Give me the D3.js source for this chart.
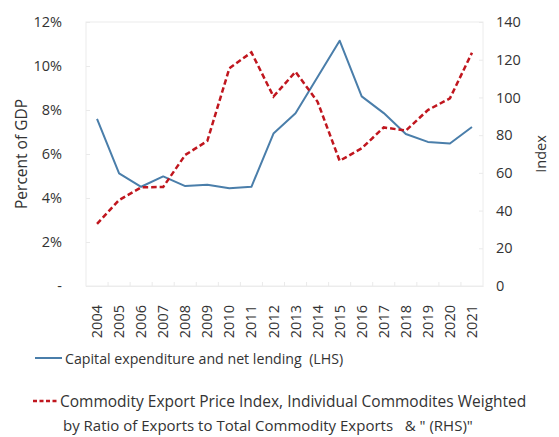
<!DOCTYPE html>
<html>
<head>
<meta charset="utf-8">
<script src="https://cdn.jsdelivr.net/npm/d3@7"></script>
<style>
  html, body { margin: 0; padding: 0; background: #fff; }
  svg { display: block; font-family: "Open Sans", "Noto Sans", sans-serif; }
  .pre { white-space: pre; }
</style>
</head>
<body>
<svg id="chart" width="559" height="437"></svg>
<script>
const years = ["2004","2005","2006","2007","2008","2009","2010","2011","2012","2013","2014","2015","2016","2017","2018","2019","2020","2021"];
const capexPct = [7.6, 5.12, 4.51, 4.98, 4.54, 4.6, 4.44, 4.51, 6.93, 7.85, 9.5, 11.15, 8.62, 7.86, 6.91, 6.55, 6.48, 7.23];
const priceIndex = [32.9, 45.6, 52.3, 52.5, 69.5, 76.9, 115.4, 123.9, 100.5, 113.6, 97.7, 66.4, 73.0, 84.1, 82.4, 93.3, 99.5, 123.7];
const leftTicks = [0, 2, 4, 6, 8, 10, 12];
const rightTicks = [0, 20, 40, 60, 80, 100, 120, 140];
const leftTitle = "Percent of GDP";
const rightTitle = "Index";
const legend1 = "Capital expenditure and net lending  (LHS)";
const legend2a = "Commodity Export Price Index, Individual Commodites Weighted";
const legend2b = "by Ratio of Exports to Total Commodity Exports   & \" (RHS)\"";

const svg = d3.select("#chart");
const L = 86, R = 483, T = 22, B = 286;
const textColor = "#333";
const blue = "#4a7eaa", red = "#c0161e";

const x = d3.scaleBand().domain(years).range([L, R]).padding(0);
const yL = d3.scaleLinear().domain([0, 12]).range([B, T]);
const yR = d3.scaleLinear().domain([0, 140]).range([B, T]);

// faint frame
svg.append("rect").attr("x", L).attr("y", T).attr("width", R - L).attr("height", B - T)
  .attr("fill", "none").attr("stroke", "#ececec").attr("stroke-width", 1);

// left axis
const gL = svg.append("g").attr("transform", `translate(${L},0)`)
  .call(d3.axisLeft(yL).tickValues(leftTicks).tickSize(-4).tickPadding(24)
    .tickFormat(d => d === 0 ? "-" : d + "%"));
gL.select(".domain").remove();
gL.selectAll(".tick line").attr("stroke", "#eaeaea");
gL.selectAll(".tick text").attr("fill", textColor).style("font-size", "14.5px")
  .style("font-family", "'Open Sans', sans-serif");

// right axis
const gR = svg.append("g").attr("transform", `translate(${R},0)`)
  .call(d3.axisRight(yR).tickValues(rightTicks).tickSize(-4).tickPadding(13));
gR.select(".domain").remove();
gR.selectAll(".tick line").attr("stroke", "#eaeaea");
gR.selectAll(".tick text").attr("fill", textColor).style("font-size", "14.5px")
  .style("font-family", "'Open Sans', sans-serif");

// bottom axis
const gB = svg.append("g").attr("transform", `translate(0,${B})`)
  .call(d3.axisBottom(x).tickSize(0).tickPadding(0));
gB.select(".domain").attr("stroke", "#ececec");
gB.selectAll(".tick text")
  .attr("fill", textColor).style("font-size", "14.5px")
  .style("font-family", "'Open Sans', sans-serif")
  .attr("transform", "rotate(-90)")
  .attr("text-anchor", "end")
  .attr("x", -19).attr("y", 0).attr("dy", "0.35em");
// faint band-boundary ticks
svg.append("g").selectAll("line").data(years.slice(1)).join("line")
  .attr("x1", d => x(d)).attr("x2", d => x(d))
  .attr("y1", B).attr("y2", B - 4)
  .attr("stroke", "#eaeaea");

// axis titles
svg.append("text").attr("transform", `translate(27,${(T + B) / 2}) rotate(-90)`)
  .attr("text-anchor", "middle").attr("fill", textColor).style("font-size", "15.5px")
  .text(leftTitle);
svg.append("text").attr("transform", `translate(546,${(T + B) / 2}) rotate(-90)`)
  .attr("text-anchor", "middle").attr("fill", textColor).style("font-size", "14.5px")
  .text(rightTitle);

// lines
const cx = d => x(d) + x.bandwidth() / 2;
svg.append("path").datum(capexPct)
  .attr("fill", "none").attr("stroke", blue).attr("stroke-width", 2)
  .attr("stroke-linejoin", "round")
  .attr("d", d3.line().x((d, i) => cx(years[i])).y(d => yL(d)));
svg.append("path").datum(priceIndex)
  .attr("fill", "none").attr("stroke", red).attr("stroke-width", 2.5)
  .attr("stroke-dasharray", "5.5,3")
  .attr("d", d3.line().x((d, i) => cx(years[i])).y(d => yR(d)));

// legend
svg.append("line").attr("x1", 35).attr("x2", 62).attr("y1", 358).attr("y2", 358)
  .attr("stroke", blue).attr("stroke-width", 2);
svg.append("text").attr("class", "pre").attr("x", 65).attr("y", 364).attr("fill", textColor)
  .style("font-size", "14.2px").text(legend1);
svg.append("line").attr("x1", 33).attr("x2", 59).attr("y1", 401).attr("y2", 401)
  .attr("stroke", red).attr("stroke-width", 2.5).attr("stroke-dasharray", "4,2.5");
svg.append("text").attr("class", "pre").attr("x", 60).attr("y", 407).attr("fill", textColor)
  .style("font-size", "15.5px").text(legend2a);
svg.append("text").attr("class", "pre").attr("x", 63).attr("y", 431).attr("fill", textColor)
  .style("font-size", "15px").text(legend2b);
</script>
</body>
</html>
